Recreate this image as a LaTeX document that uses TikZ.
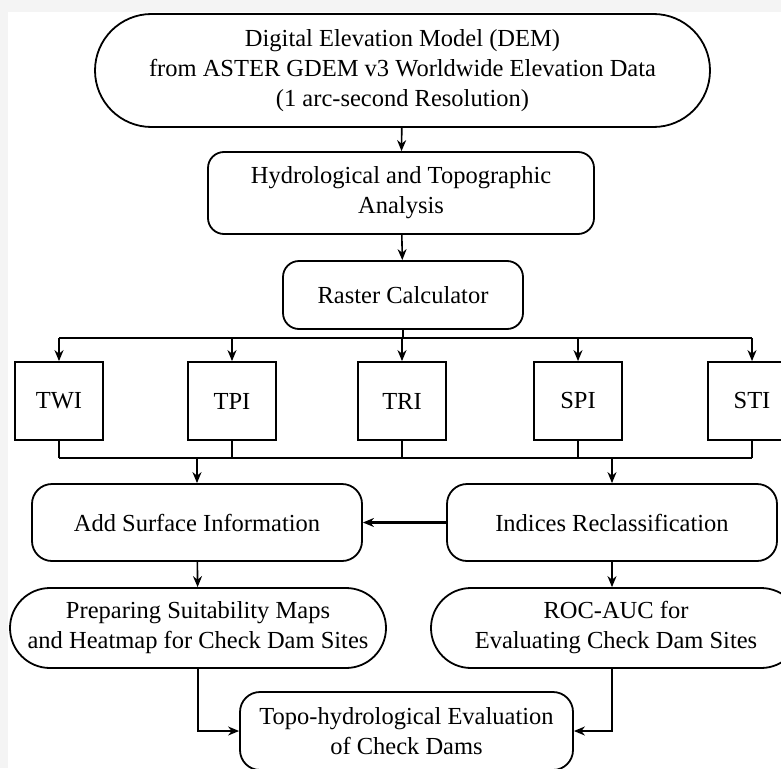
\documentclass[tikz,border=0pt]{standalone}
\usepackage{fontspec}
\setmainfont{Liberation Serif}
\usepackage{tikz}
\usetikzlibrary{arrows.meta,shapes.misc}

\tikzset{
  box/.style={draw, line width=1.8pt, align=center, inner sep=0pt, fill=white},
  roundbox/.style={box, rounded corners=16pt},
  pillbox/.style={box, rounded rectangle},
  idxbox/.style={box, minimum width=88pt, minimum height=78pt},
  flow/.style={line width=1.6pt, -{Stealth[length=11pt,width=9pt]}},
  plain/.style={line width=1.6pt}
}

\begin{document}
\begin{tikzpicture}[x=1pt, y=-1pt]

  \fontsize{24.5}{30}\selectfont

  \newcommand\busA{338};
  \newcommand\busB{458};

  \useasboundingbox (0,0) rectangle (781,768);
  \fill[gray!9] (0,0) rectangle (781,768);
  \fill[white] (8,12) rectangle (781,768);

  \node[pillbox, minimum width=615pt, minimum height=113pt] (dem) at (402.5,70.5)
    {Digital Elevation Model (DEM)\\from ASTER GDEM v3 Worldwide Elevation Data\\(1 arc-second Resolution)};
  \node[roundbox, minimum width=386pt, minimum height=82pt] (hydro) at (401,193)
    {Hydrological and Topographic\\Analysis};
  \node[roundbox, minimum width=240pt, minimum height=68pt] (raster) at (403,295)
    {Raster Calculator};

  \node[idxbox] (twi) at (59,401) {TWI};
  \node[idxbox] (tpi) at (232,401) {TPI};
  \node[idxbox] (tri) at (402,401) {TRI};
  \node[idxbox] (spi) at (578,401) {SPI};
  \node[idxbox] (sti) at (752,401) {STI};

  \node[roundbox, rounded corners=20pt, minimum width=330pt, minimum height=77pt] (surf) at (197,522.5)
    {Add Surface Information};
  \node[roundbox, rounded corners=20pt, minimum width=330pt, minimum height=77pt] (reclass) at (612,522.5)
    {Indices Reclassification};

  \node[pillbox, minimum width=376pt, minimum height=80pt] (prep) at (198,628)
    {Preparing Suitability Maps\\and Heatmap for Check Dam Sites};
  \node[pillbox, minimum width=370pt, minimum height=80pt] (roc) at (616,628)
    {ROC-AUC for\\Evaluating Check Dam Sites};

  \node[roundbox, rounded corners=20pt, minimum width=333pt, minimum height=78pt] (topo) at (406.5,731)
    {Topo-hydrological Evaluation\\of Check Dams};

  \coordinate (bA) at (0,\busA);
  \coordinate (bB) at (0,\busB);

  \draw[flow] (dem) -- (hydro);
  \draw[flow] (hydro) -- (raster);

  %% raster -> indices
  \draw[plain] (raster) -- (raster |- bA);
  \draw[plain] (twi |- bA) -- (sti |- bA);
  \foreach \n in {twi,tpi,tri,spi,sti}
    \draw[flow] (\n |- bA) -- (\n);

  %% indices -> surf, reclass
  \foreach \n in {twi,tpi,tri,spi,sti}
    \draw[plain] (\n) -- (\n |- bB);
  \draw[plain] (twi |- bB) -- (sti |- bB);
  \draw[flow] (surf |- bB) -- (surf);
  \draw[flow] (reclass |- bB) -- (reclass);

  \draw[flow, line width=2.2pt] (reclass) -- (surf); %% reclass->surf
  \draw[flow] (surf) -- (prep);
  \draw[flow] (reclass.south) -- (reclass.south |- roc.north);

  %  final evaluation
  \draw[flow] (prep.south) |- (topo.west);
  \draw[flow] (reclass.south |- roc.south) |- (topo.east);

\end{tikzpicture}
\end{document}
